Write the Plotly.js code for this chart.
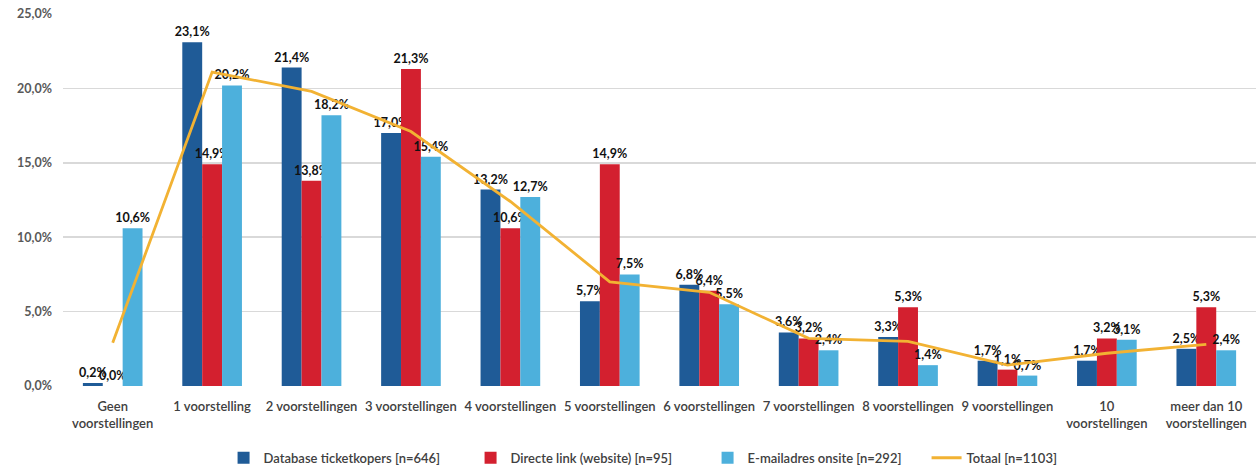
<!DOCTYPE html>
<html>
<head>
<meta charset="utf-8">
<script src="https://cdn.plot.ly/plotly-3.0.1.min.js"></script>
<style>html,body{margin:0;padding:0;background:#fff;}#chart{width:1256px;height:471px;}</style>
</head>
<body>
<div id="chart"></div>
<script>
const categories = ["Geen<br>voorstellingen", "1 voorstelling", "2 voorstellingen", "3 voorstellingen", "4 voorstellingen", "5 voorstellingen", "6 voorstellingen", "7 voorstellingen", "8 voorstellingen", "9 voorstellingen", "10<br>voorstellingen", "meer dan 10<br>voorstellingen"];
const database = [0.2, 23.1, 21.4, 17.0, 13.2, 5.7, 6.8, 3.6, 3.3, 1.7, 1.7, 2.5];
const directe = [0.0, 14.9, 13.8, 21.3, 10.6, 14.9, 6.4, 3.2, 5.3, 1.1, 3.2, 5.3];
const email = [10.6, 20.2, 18.2, 15.4, 12.7, 7.5, 5.5, 2.4, 1.4, 0.7, 3.1, 2.4];
const totaal = [2.9, 21.1, 19.8, 17.1, 12.4, 7.0, 6.3, 3.2, 3.0, 1.4, 2.2, 2.8];
const seriesNames = ["Database ticketkopers [n=646]", "Directe link (website) [n=95]", "E-mailadres onsite [n=292]", "Totaal [n=1103]"];
const yTicks = [0, 5, 10, 15, 20, 25];
const yTickText = yTicks.map(v => v.toFixed(1).replace(".", ",") + "%");

const FONT = "Lato, 'Open Sans', sans-serif";
const labelFont = {family: FONT, size: 12.5, color: "#111", weight: 700};

function barTrace(vals, name, color, lw) {
  return {
    type: "bar", x: categories, y: vals, name: name,
    marker: {color: color}, legendwidth: lw,
    texttemplate: "%{y:.1f}%", textposition: "outside",
    textfont: labelFont, constraintext: "none", cliponaxis: false,
    hoverinfo: "skip"
  };
}

const data = [
  barTrace(database, seriesNames[0], "#1f5b97", 202),
  barTrace(directe, seriesNames[1], "#d3202f", 192),
  barTrace(email, seriesNames[2], "#4db0dc", 174),
  {
    type: "scatter", mode: "lines", x: categories, y: totaal, name: seriesNames[3],
    line: {color: "#f2b233", width: 2.8}, hoverinfo: "skip", cliponaxis: false,
    legendwidth: 110
  }
];

const layout = {
  width: 1256, height: 471,
  margin: {l: 63, r: 0, t: 14, b: 85, autoexpand: false},
  paper_bgcolor: "#fff", plot_bgcolor: "#fff",
  separators: ",.",
  barmode: "group", bargap: 0.4, bargroupgap: 0,
  font: {family: FONT, color: "#404040"},
  xaxis: {
    type: "category", tickfont: {family: FONT, size: 13, color: "#404040", weight: 600},
    showgrid: false, showline: false, ticks: "", zeroline: false, ticklabelstandoff: 11
  },
  yaxis: {
    range: [0, 25], tickmode: "array", tickvals: yTicks, ticktext: yTickText,
    tickfont: {family: FONT, size: 12.5, color: "#595959", weight: 700},
    showgrid: true, gridcolor: "#d9d9d9", gridwidth: 1.5, zeroline: false,
    ticks: "", showline: false, automargin: false, ticklabelstandoff: 10
  },
  legend: {
    orientation: "h", xref: "container", yref: "container",
    x: 0.178, xanchor: "left", y: 0.028, yanchor: "middle",
    font: {family: FONT, size: 13, color: "#404040", weight: 600},
    traceorder: "normal"
  },
  showlegend: true
};

Plotly.newPlot("chart", data, layout, {displayModeBar: false, staticPlot: true});
</script>
</body>
</html>
